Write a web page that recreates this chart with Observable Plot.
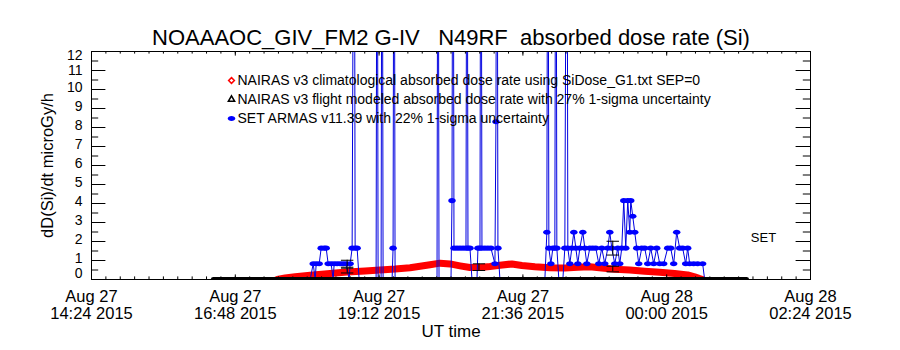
<!DOCTYPE html>
<html><head><meta charset="utf-8">
<script src="https://cdn.jsdelivr.net/npm/d3@7"></script>
<script src="https://cdn.jsdelivr.net/npm/@observablehq/plot@0.6"></script>
<style>
body{margin:0;background:#fff;}
svg text{white-space:pre;}
</style></head><body><div id="chart"></div>
<script>
// ---- texts ----
const titleText = "NOAAAOC_GIV_FM2 G-IV   N49RF  absorbed dose rate (Si)";
const yLabelText = "dD(Si)/dt microGy/h";
const xLabelText = "UT time";
const legendTexts = [
  "NAIRAS v3 climatological absorbed dose rate using SiDose_G1.txt SEP=0",
  "NAIRAS v3 flight modeled absorbed dose rate with 27% 1-sigma uncertainty",
  "SET ARMAS v11.39 with 22% 1-sigma uncertainty"
];
const instrumentText = "SET";

// ---- axes ----
const xTickIso = ["2015-08-27T14:24Z","2015-08-27T16:48Z","2015-08-27T19:12Z","2015-08-27T21:36Z","2015-08-28T00:00Z","2015-08-28T02:24Z"];
const xTickLabels = ["Aug 27\n14:24 2015","Aug 27\n16:48 2015","Aug 27\n19:12 2015","Aug 27\n21:36 2015","Aug 28\n00:00 2015","Aug 28\n02:24 2015"];
const yTicks = [0,1,2,3,4,5,6,7,8,9,10,11,12];

// ---- data: times in UT minutes from 2015-08-27 00:00 ----
// NAIRAS v3 climatological (red)
const climMin  = [1050,1058,1068,1083,1103,1120,1138,1153,1168,1183,1193,1203,1213,1223,1233,1243,1253,1263,1273,1285,1295,1308,1323,1338,1351,1363,1375,1388,1403,1418,1433,1448,1461,1468,1473,1476];
const climDose = [0,0.08,0.15,0.22,0.32,0.40,0.45,0.50,0.55,0.62,0.70,0.78,0.86,0.82,0.72,0.63,0.63,0.68,0.75,0.82,0.74,0.67,0.62,0.60,0.64,0.67,0.60,0.54,0.50,0.44,0.38,0.31,0.24,0.14,0.05,0];

// NAIRAS v3 flight modeled (black)
const flightMin  = [986,1520];
const flightDose = [0,0];
const flightBarMin  = [1120,1252,1386];
const flightBarDose = [0.47,0.65,0.55];
const flightSigma = 0.27;

// SET ARMAS v11.39 (blue)
const armasMin = [986,1083,1086,1088,1089,1092,1094,1097,1099,1101,1104,1106,1107,1110,1113,1116,1119,1122,1123,1125,1127,1128,1130,1132,
  1149,1150,1151,1154,1155,1156,1165,1166,1167,1168,1210,1211,1212,1224,1225,1226,1227,1230,1233,1236,1239,1240,1241,1243,1245,
  1250,1251,1253,1254,1255,1258,1261,1264,1268,1269,1270,1271,1273,1318,1320,1321,1322,1324,1326,1328,1329,1330,1332,1336,1338,1340,1341,
  1343,1345,1347,1349,1351,1353,1356,1358,1360,1363,1366,1369,1372,1375,1378,1381,1383,1385,1388,1391,1393,1395,1397,1399,1401,1403,1404,
  1406,1408,1410,1412,1415,1418,1421,1424,1427,1430,1433,1437,1441,1444,1447,1450,1453,1456,1459,1461,1463,1467,1471,1476,1478,1520];
const armasDose = [0,0,0.83,0,0.83,0.83,1.65,1.65,1.65,0.83,0.83,0,0.83,0.83,0.83,0.83,0.83,0,0.83,1.65,30,1.65,1.65,0,
  0,30,0,0,30,0,0,1.65,30,0,0,30,0,0,4.15,30,1.65,1.65,1.65,1.65,1.65,30,1.65,1.65,0,
  0,1.65,1.65,30,1.65,1.65,1.65,1.65,0.83,8.3,30,1.65,0,0,2.49,30,1.65,0.83,1.65,1.65,30,1.65,0,0,1.65,30,1.65,
  0.83,1.65,2.49,1.65,0.83,1.65,2.49,1.65,0.83,1.65,1.65,1.65,0.83,1.65,0.83,1.65,2.49,1.65,0.83,1.65,0.83,1.65,4.15,1.65,4.15,2.49,4.15,
  3.33,2.49,1.65,0.83,1.65,1.65,0.83,1.65,0.83,1.65,0.83,0.83,1.65,1.65,0.83,2.49,1.65,1.65,0.83,1.65,0.83,0.83,0.83,0.83,0,0];
const armasBarMin  = [1120,1386];
const armasBarDose = [0.83,1.65];
const armasSigma = 0.22;

// ---- build ----
const t = m => new Date(Date.UTC(2015,7,27,0,m));
const clim = climMin.map((m,i)=>({t:t(m), v:climDose[i]}));
const flight = flightMin.map((m,i)=>({t:t(m), v:flightDose[i]}));
const armas = armasMin.map((m,i)=>({t:t(m), v:armasDose[i]}));
const bars = [
  ...flightBarMin.map((m,i)=>({t:t(m), lo:flightBarDose[i]*(1-flightSigma), hi:flightBarDose[i]*(1+flightSigma)})),
  ...armasBarMin.map((m,i)=>({t:t(m), lo:armasBarDose[i]*(1-armasSigma), hi:armasBarDose[i]*(1+armasSigma)}))
];
const xTicks = xTickIso.map((s,i)=>({d:new Date(s), label:xTickLabels[i]}));
const x0 = xTicks[0].d, x1 = xTicks[xTicks.length-1].d;
const xMinor = d3.range(0, 51).map(i => new Date(+x0 + i*(x1-x0)/50));
const yMinor = d3.range(0.5, 12, 1);

const W=900, H=350, mL=91, mR=90, mT=51, mB=71;
const pw = W-mL-mR, ph = H-mT-mB;
const font = "'Liberation Sans', Arial, sans-serif";
const capSym = {draw(ctx, size){ const w = Math.sqrt(size); ctx.moveTo(-w,0); ctx.lineTo(w,0);} };
const pillSym = {draw(ctx, size){
  const r = Math.sqrt(size/Math.PI), a = r*1.25, b = r*0.85, k = 0.5523;
  ctx.moveTo(a,0);
  ctx.bezierCurveTo(a, b*k, a*k, b, 0, b);
  ctx.bezierCurveTo(-a*k, b, -a, b*k, -a, 0);
  ctx.bezierCurveTo(-a, -b*k, -a*k, -b, 0, -b);
  ctx.bezierCurveTo(a*k, -b, a, -b*k, a, 0);
  ctx.closePath();
}};
const yt = (vals, dy) => Plot.text(vals, {y:d=>d, text:d=>String(d), frameAnchor:"left", textAnchor:"end", lineAnchor:"middle", dx:-9, dy, fontSize:14});

const chart = Plot.plot({
  width:W, height:H, marginLeft:mL, marginRight:mR, marginTop:mT, marginBottom:mB,
  style:{fontFamily:font, background:"#fff", color:"#000", overflow:"visible"},
  x:{type:"utc", domain:[x0,x1], axis:null},
  y:{domain:[0,12], axis:null},
  marks:[
    Plot.line(clim, {x:"t", y:"v", stroke:"#ff0000", strokeWidth:7, clip:true}),
    Plot.line(armas, {x:"t", y:"v", stroke:"#0000e0", strokeWidth:1, clip:true}),
    Plot.dot(armas.filter(d=>d.v>0), {x:"t", y:"v", r:3, symbol:pillSym, fill:"#0000ff", stroke:null, clip:true}),
    Plot.line(flight, {x:"t", y:"v", stroke:"#000", strokeWidth:5, clip:true}),
    Plot.ruleX(bars, {x:"t", y1:"lo", y2:"hi", stroke:"#000", strokeWidth:1}),
    Plot.dot(bars, {x:"t", y:"lo", symbol:capSym, r:3.5, stroke:"#000", fill:null, strokeWidth:1}),
    Plot.dot(bars, {x:"t", y:"hi", symbol:capSym, r:3.5, stroke:"#000", fill:null, strokeWidth:1}),
    Plot.frame({stroke:"#000", strokeWidth:1}),
    // inward ticks
    Plot.tickY(yTicks, {y:d=>d, insetRight:pw-14.4, stroke:"#000"}),
    Plot.tickY(yMinor, {y:d=>d, insetRight:pw-7.2, stroke:"#000"}),
    Plot.tickY(yTicks, {y:d=>d, insetLeft:pw-14.4, stroke:"#000"}),
    Plot.tickY(yMinor, {y:d=>d, insetLeft:pw-7.2, stroke:"#000"}),
    Plot.tickX(xTicks, {x:"d", insetTop:ph-4.6, stroke:"#000"}),
    Plot.tickX(xMinor, {x:d=>d, insetTop:ph-2.6, stroke:"#000"}),
    Plot.tickX(xTicks, {x:"d", insetBottom:ph-4.6, stroke:"#000"}),
    Plot.tickX(xMinor, {x:d=>d, insetBottom:ph-2.6, stroke:"#000"}),
    // tick labels
    yt(yTicks.filter(v=>v>1 && v<11), -2),
    yt([11], 0),
    yt([12], 4),
    yt([1], -2),
    yt([0], -6),
    Plot.text(xTicks, {x:"d", text:"label", frameAnchor:"bottom", lineAnchor:"top", dy:11, fontSize:16.5, lineHeight:1.0}),
    // titles
    Plot.text([titleText], {frameAnchor:"top", lineAnchor:"middle", textAnchor:"middle", dy:-14, fontSize:22, text:d=>d}),
    Plot.text([yLabelText], {frameAnchor:"left", lineAnchor:"middle", textAnchor:"middle", dx:-44, rotate:-90, fontSize:16.5, text:d=>d}),
    Plot.text([xLabelText], {frameAnchor:"bottom", lineAnchor:"middle", textAnchor:"middle", dy:52, fontSize:17, text:d=>d}),
    Plot.text([instrumentText], {frameAnchor:"top-left", lineAnchor:"middle", dx:672, dy:186, fontSize:13, text:d=>d, textAnchor:"middle"}),
    // legend
    Plot.dot([0], {frameAnchor:"top-left", dx:140, dy:29, symbol:"diamond2", r:2.6, stroke:"#ff0000", strokeWidth:1.5}),
    Plot.dot([0], {frameAnchor:"top-left", dx:140, dy:48, symbol:"triangle2", r:3, stroke:"#000", strokeWidth:1.5}),
    Plot.dot([0], {frameAnchor:"top-left", dx:140, dy:67, symbol:pillSym, r:3, fill:"#0000ff"}),
    Plot.text([legendTexts[0]], {frameAnchor:"top-left", lineAnchor:"middle", dx:146, dy:29, text:d=>d, textAnchor:"start", fontSize:14}),
    Plot.text([legendTexts[1]], {frameAnchor:"top-left", lineAnchor:"middle", dx:146, dy:48, text:d=>d, textAnchor:"start", fontSize:14}),
    Plot.text([legendTexts[2]], {frameAnchor:"top-left", lineAnchor:"middle", dx:146, dy:67, text:d=>d, textAnchor:"start", fontSize:14})
  ]
});
document.getElementById("chart").appendChild(chart);
</script>
</body></html>
